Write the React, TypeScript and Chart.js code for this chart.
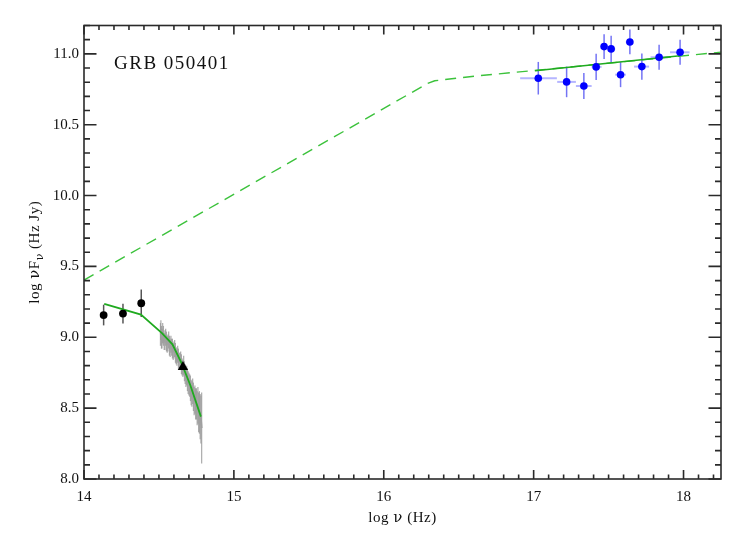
import React, { useEffect, useRef } from 'react';
import { Chart, registerables } from 'chart.js';

Chart.register(...registerables);

// ---- axes ----
const xMin = 14;
const xMax = 18.25;
const yMin = 8.0;
const yMax = 11.2;
const xTicks = [14, 15, 16, 17, 18];
const xTickLabels = ['14', '15', '16', '17', '18'];
const yTicks = [8.0, 8.5, 9.0, 9.5, 10.0, 10.5, 11.0];
const yTickLabels = ['8.0', '8.5', '9.0', '9.5', '10.0', '10.5', '11.0'];
const xMinorStep = 0.1;
const yMinorStep = 0.1;

const titleText = 'GRB 050401';
const xTitleParts = ['log ', '\u03bd', ' (Hz)'];
const yTitleParts = ['log ', '\u03bd', 'F', '\u03bd', ' (Hz Jy)'];

// ---- model (dashed broad-band) ----
const modelX = [14.0, 16.29, 16.34, 16.62, 17.0, 18.25];
const modelY = [9.404, 10.79, 10.81, 10.844, 10.882, 11.012];

// ---- model (solid X-ray segment) ----
const xrayModelX = [17.01, 17.976];
const xrayModelY = [10.881, 10.987];

// ---- model (solid optical segment) ----
const optModelX = [14.135, 14.38, 14.52, 14.59, 14.65, 14.71, 14.78];
const optModelY = [9.235, 9.16, 9.03, 8.95, 8.82, 8.66, 8.44];

// ---- X-ray data ----
const xrayX = [17.031, 17.22, 17.335, 17.417, 17.47, 17.517, 17.58, 17.642, 17.722, 17.837, 17.977];
const xrayY = [10.828, 10.802, 10.773, 10.908, 11.051, 11.035, 10.853, 11.084, 10.91, 10.976, 11.011];
const xrayXLo = [16.91, 17.157, 17.282, 17.387, 17.453, 17.49, 17.544, 17.615, 17.67, 17.78, 17.91];
const xrayXHi = [17.155, 17.282, 17.387, 17.453, 17.49, 17.544, 17.615, 17.664, 17.77, 17.897, 18.04];
const xrayYErr = [0.115, 0.108, 0.092, 0.092, 0.088, 0.092, 0.088, 0.087, 0.092, 0.088, 0.088];

// ---- optical photometry ----
const optX = [14.131, 14.26, 14.382];
const optY = [9.157, 9.167, 9.24];
const optYErr = [0.073, 0.07, 0.097];

// ---- optical triangle ----
const triX = [14.66];
const triY = [8.79];

// ---- optical spectrum ----
const specX = [14.51, 14.513, 14.517, 14.52, 14.525, 14.53, 14.535, 14.54, 14.545, 14.55, 14.555, 14.56, 14.565, 14.57, 14.575, 14.58, 14.585, 14.59, 14.595, 14.6, 14.605, 14.61, 14.615, 14.62, 14.625, 14.63, 14.635, 14.64, 14.645, 14.65, 14.655, 14.66, 14.665, 14.67, 14.675, 14.68, 14.685, 14.69, 14.695, 14.7, 14.705, 14.71, 14.715, 14.72, 14.725, 14.73, 14.735, 14.74, 14.745, 14.75, 14.755, 14.76, 14.765, 14.77, 14.775, 14.78, 14.785];
const specY = [9.02, 9.05, 9.0, 8.99, 9.03, 9.01, 8.97, 8.98, 9.0, 8.97, 8.95, 8.96, 8.98, 8.94, 8.92, 8.95, 8.93, 8.92, 8.9, 8.91, 8.92, 8.89, 8.87, 8.86, 8.88, 8.85, 8.83, 8.83, 8.84, 8.81, 8.79, 8.78, 8.8, 8.76, 8.74, 8.72, 8.73, 8.7, 8.68, 8.67, 8.66, 8.64, 8.61, 8.6, 8.62, 8.58, 8.55, 8.56, 8.53, 8.53, 8.5, 8.52, 8.47, 8.47, 8.44, 8.42, 8.36];
const specErr = [0.08, 0.07, 0.08, 0.07, 0.07, 0.07, 0.06, 0.07, 0.06, 0.07, 0.06, 0.06, 0.06, 0.07, 0.06, 0.06, 0.06, 0.07, 0.06, 0.06, 0.06, 0.07, 0.06, 0.06, 0.06, 0.07, 0.06, 0.06, 0.06, 0.07, 0.06, 0.06, 0.07, 0.07, 0.07, 0.07, 0.07, 0.08, 0.08, 0.08, 0.08, 0.09, 0.09, 0.09, 0.09, 0.1, 0.1, 0.1, 0.11, 0.11, 0.12, 0.13, 0.14, 0.15, 0.16, 0.17, 0.25];

const pts = (xs: number[], ys: number[]) => xs.map((v, i) => ({ x: v, y: ys[i] }));

const SERIF = '"Liberation Serif", "DejaVu Serif", serif';
const GREEK = '"DejaVu Serif", serif';

const errorBarPlugin = {
  id: 'errbars',
  beforeDatasetsDraw(chart: any) {
    const { ctx } = chart;
    const x = chart.scales.x;
    const y = chart.scales.y;
    ctx.save();
    // spectrum error bars
    ctx.strokeStyle = 'rgba(150,150,150,0.8)';
    ctx.lineWidth = 1.2;
    specX.forEach((v, i) => {
      const px = x.getPixelForValue(v);
      ctx.beginPath();
      ctx.moveTo(px, y.getPixelForValue(specY[i] - specErr[i]));
      ctx.lineTo(px, y.getPixelForValue(specY[i] + specErr[i]));
      ctx.stroke();
    });
    // optical photometry error bars
    ctx.strokeStyle = '#555';
    ctx.lineWidth = 1.5;
    optX.forEach((v, i) => {
      const px = x.getPixelForValue(v);
      ctx.beginPath();
      ctx.moveTo(px, y.getPixelForValue(optY[i] - optYErr[i]));
      ctx.lineTo(px, y.getPixelForValue(optY[i] + optYErr[i]));
      ctx.stroke();
    });
    // X-ray error bars
    xrayX.forEach((v, i) => {
      const px = x.getPixelForValue(v);
      const py = y.getPixelForValue(xrayY[i]);
      ctx.strokeStyle = 'rgba(120,120,255,0.55)';
      ctx.lineWidth = 2;
      ctx.beginPath();
      ctx.moveTo(x.getPixelForValue(xrayXLo[i]), py);
      ctx.lineTo(x.getPixelForValue(xrayXHi[i]), py);
      ctx.stroke();
      ctx.strokeStyle = 'rgba(70,70,240,0.75)';
      ctx.lineWidth = 1.5;
      ctx.beginPath();
      ctx.moveTo(px, y.getPixelForValue(xrayY[i] - xrayYErr[i]));
      ctx.lineTo(px, y.getPixelForValue(xrayY[i] + xrayYErr[i]));
      ctx.stroke();
    });
    ctx.restore();
  },
};

// draws a sequence of text parts; Greek parts (index set) use GREEK font, subscript parts are smaller and shifted
function drawParts(ctx: any, parts: string[], greek: boolean[], sub: boolean[], cx: number, cy: number) {
  const fontFor = (i: number) => `${sub[i] ? 11 : 15}px ${greek[i] ? GREEK : SERIF}`;
  const widths = parts.map((p, i) => {
    ctx.font = fontFor(i);
    return ctx.measureText(p).width;
  });
  const total = widths.reduce((a, b) => a + b, 0);
  let x0 = cx - total / 2;
  ctx.textAlign = 'left';
  ctx.textBaseline = 'middle';
  parts.forEach((p, i) => {
    ctx.font = fontFor(i);
    ctx.fillText(p, x0, cy + (sub[i] ? 5 : 0));
    x0 += widths[i];
  });
}

const framePlugin = {
  id: 'frame',
  afterDraw(chart: any) {
    const { ctx, chartArea: a } = chart;
    const x = chart.scales.x;
    const y = chart.scales.y;
    ctx.save();
    ctx.strokeStyle = '#2a2a2a';
    ctx.lineWidth = 1.6;
    ctx.strokeRect(a.left, a.top, a.right - a.left, a.bottom - a.top);
    ctx.beginPath();
    // x ticks (bottom & top)
    const nX = Math.floor((xMax - xMin) / xMinorStep + 1e-6);
    for (let i = 0; i <= nX; i++) {
      const v = xMin + i * xMinorStep;
      const major = Math.abs(v - Math.round(v)) < 1e-6;
      const len = major ? 9 : 4.5;
      const px = x.getPixelForValue(v);
      ctx.moveTo(px, a.bottom);
      ctx.lineTo(px, a.bottom - len);
      ctx.moveTo(px, a.top);
      ctx.lineTo(px, a.top + len);
    }
    // y ticks (left & right)
    const nY = Math.floor((yMax - yMin) / yMinorStep + 1e-6);
    for (let i = 0; i <= nY; i++) {
      const v = yMin + i * yMinorStep;
      const major = Math.abs(v * 2 - Math.round(v * 2)) < 1e-6;
      const len = major ? 12.5 : 6;
      const py = y.getPixelForValue(v);
      ctx.moveTo(a.left, py);
      ctx.lineTo(a.left + len, py);
      ctx.moveTo(a.right, py);
      ctx.lineTo(a.right - len, py);
    }
    ctx.stroke();

    // texts
    ctx.fillStyle = '#111';
    ctx.textBaseline = 'alphabetic';
    (ctx as any).letterSpacing = '1.5px';
    ctx.font = `19px ${SERIF}`;
    ctx.textAlign = 'left';
    ctx.fillText(titleText, 114, 69);
    (ctx as any).letterSpacing = '0.5px';
    // x title
    drawParts(ctx, xTitleParts, [false, true, false], [false, false, false], (a.left + a.right) / 2, 518);
    // y title (rotated)
    ctx.save();
    ctx.translate(35, (a.top + a.bottom) / 2);
    ctx.rotate(-Math.PI / 2);
    drawParts(ctx, yTitleParts, [false, true, false, true, false], [false, false, false, true, false], 0, 0);
    ctx.restore();
    ctx.restore();
  },
};

export default function App() {
  const ref = useRef<HTMLCanvasElement>(null);
  useEffect(() => {
    if (!ref.current) return;
    const chart = new Chart(ref.current, {
      type: 'scatter',
      data: {
        datasets: [
          {
            label: 'X-ray',
            data: pts(xrayX, xrayY),
            showLine: false,
            pointRadius: 3.8,
            pointBackgroundColor: '#0000ff',
            pointBorderColor: '#0000ff',
            pointBorderWidth: 0,
          },
          {
            label: 'triangle',
            data: pts(triX, triY),
            showLine: false,
            pointStyle: 'triangle',
            pointRadius: 6,
            pointBackgroundColor: '#000',
            pointBorderColor: '#000',
            pointBorderWidth: 0,
          },
          {
            label: 'optical',
            data: pts(optX, optY),
            showLine: false,
            pointRadius: 3.9,
            pointBackgroundColor: '#000',
            pointBorderColor: '#000',
            pointBorderWidth: 0,
          },
          {
            label: 'opt model',
            data: pts(optModelX, optModelY),
            showLine: true,
            pointRadius: 0,
            borderColor: '#1faa1f',
            borderWidth: 1.8,
            tension: 0,
          },
          {
            label: 'spectrum',
            data: pts(specX, specY),
            showLine: true,
            pointRadius: 0,
            borderColor: 'rgba(160,160,160,0.9)',
            borderWidth: 2,
            tension: 0,
          },
          {
            label: 'xray model',
            data: pts(xrayModelX, xrayModelY),
            showLine: true,
            pointRadius: 0,
            borderColor: '#1faa1f',
            borderWidth: 1.6,
            tension: 0,
          },
          {
            label: 'model',
            data: pts(modelX, modelY),
            showLine: true,
            pointRadius: 0,
            borderColor: '#3cc23c',
            borderWidth: 1.4,
            borderDash: [11, 7],
            tension: 0,
          },
        ],
      },
      options: {
        animation: false,
        responsive: false,
        devicePixelRatio: 1,
        layout: { padding: { top: 25.5, right: 26, left: 0, bottom: 0 } },
        plugins: { legend: { display: false }, tooltip: { enabled: false }, title: { display: false } },
        events: [],
        scales: {
          x: {
            type: 'linear',
            min: xMin,
            max: xMax,
            grid: { display: false, drawTicks: false },
            border: { display: false },
            afterBuildTicks: (s: any) => {
              s.ticks = xTicks.map((v) => ({ value: v }));
            },
            afterFit: (s: any) => {
              s.height = 55;
            },
            ticks: {
              autoSkip: false,
              maxRotation: 0,
              padding: 9,
              color: '#111',
              font: { family: SERIF, size: 15 },
              callback: (v: any) => {
                const i = xTicks.indexOf(Number(v));
                return i >= 0 ? xTickLabels[i] : '';
              },
            },
          },
          y: {
            type: 'linear',
            min: yMin,
            max: yMax,
            grid: { display: false, drawTicks: false },
            border: { display: false },
            afterBuildTicks: (s: any) => {
              s.ticks = yTicks.map((v) => ({ value: v }));
            },
            afterFit: (s: any) => {
              s.width = 84;
            },
            ticks: {
              autoSkip: false,
              padding: 5,
              color: '#111',
              font: { family: SERIF, size: 15 },
              callback: (v: any) => {
                const i = yTicks.findIndex((t) => Math.abs(t - Number(v)) < 1e-9);
                return i >= 0 ? yTickLabels[i] : '';
              },
            },
          },
        },
      },
      plugins: [errorBarPlugin, framePlugin],
    } as any);
    return () => chart.destroy();
  }, []);
  return (
    <div style={{ position: 'fixed', left: 0, top: 0, width: 747, height: 534, background: '#fff' }}>
      <canvas ref={ref} width={747} height={534} style={{ width: 747, height: 534, display: 'block' }} />
    </div>
  );
}
